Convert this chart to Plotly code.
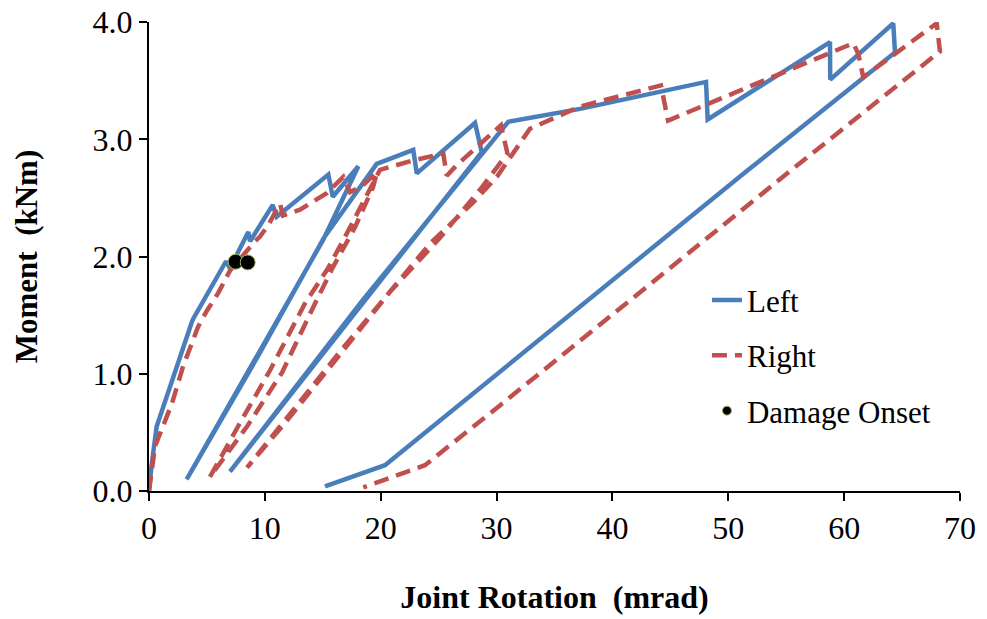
import plotly.graph_objects as go

# Left joint (blue, solid): rotation (mrad) and moment (kNm)
left_rot = [0, 0.2, 0.66, 2.24, 3.69, 3.82, 6.65, 6.99, 8.57, 8.72, 10.68, 11.02,
            15.48, 15.86, 18.07, 15.02, 9.06, 3.25, 9.41, 15.1, 19.65, 22.81, 23.11,
            28.14, 28.72, 6.99, 18.38, 31.01, 37.2, 48.08, 48.22, 58.78, 58.8, 64.24,
            64.39, 51.73, 20.37, 15.19]
left_mom = [0, 0.2, 0.55, 1.03, 1.44, 1.47, 1.96, 1.90, 2.21, 2.13, 2.44, 2.34,
            2.70, 2.51, 2.77, 2.14, 1.10, 0.10, 1.15, 2.16, 2.79, 2.91, 2.71,
            3.14, 2.89, 0.165, 1.62, 3.15, 3.26, 3.49, 3.17, 3.83, 3.51, 3.99,
            3.74, 2.74, 0.22, 0.04]

# Right joint (red, dashed)
right_rot = [0, 0.52, 1.99, 2.93, 4.23, 5.01, 5.98, 6.99, 9.06, 9.58, 10.3, 11.31, 11.57,
             13.03, 15.34, 16.77, 17.35, 18.36, 19.68,
             19.33, 17.78, 15.88, 14.33, 11.48, 8.46, 5.26,
             7.68, 10.45, 13.46, 15.45, 17.09, 18.47, 19.94,
             22.81, 25.4, 25.7, 26.56, 30.38, 30.94,
             28.57, 25.12, 20.81, 16.5, 11.91, 8.46,
             16.5, 24.25, 27.96, 30.03, 31.75, 32.88,
             37.2, 44.19, 44.8, 60.79, 61.22, 61.65, 67.99, 68.27,
             55.47, 33.17, 30.29, 23.82, 18.5]
right_mom = [0, 0.38, 0.75, 1.06, 1.40, 1.54, 1.69, 1.88, 2.12, 2.17, 2.27, 2.45, 2.35,
             2.40, 2.54, 2.68, 2.55, 2.60, 2.72,
             2.59, 2.25, 1.91, 1.60, 1.01, 0.55, 0.12,
             0.55, 1.03, 1.60, 1.90, 2.20, 2.46, 2.74,
             2.82, 2.88, 2.69, 2.78, 3.12, 2.88,
             2.57, 2.16, 1.70, 1.16, 0.60, 0.20,
             1.19, 2.11, 2.46, 2.68, 2.93, 3.09,
             3.28, 3.46, 3.16, 3.82, 3.73, 3.53, 3.99, 3.75,
             2.74, 0.95, 0.73, 0.22, 0.03]

# Damage onset points
onset_rot = [7.48, 8.52]
onset_mom = [1.956, 1.95]

x_ticks = [0, 10, 20, 30, 40, 50, 60, 70]
y_ticks = [0.0, 1.0, 2.0, 3.0, 4.0]

BLUE = "#4a7ebb"
RED = "#c0504d"
FONT = "Liberation Serif, Times New Roman, serif"

fig = go.Figure()
fig.add_trace(go.Scatter(x=left_rot, y=left_mom, mode="lines", name="Left",
                         legendgroup="a",
                         line=dict(color=BLUE, width=4.5)))
fig.add_trace(go.Scatter(x=right_rot, y=right_mom, mode="lines", name="Right",
                         legendgroup="b",
                         line=dict(color=RED, width=4.5, dash="15px,8px")))
fig.add_trace(go.Scatter(x=onset_rot, y=onset_mom, mode="markers", name="Damage Onset",
                         showlegend=False,
                         marker=dict(color="black", size=15,
                                     line=dict(color="#9bbb59", width=1))))
fig.add_trace(go.Scatter(x=[None], y=[None], mode="markers", name="Damage Onset",
                         legendgroup="c",
                         marker=dict(color="black", size=9,
                                     line=dict(color="#9bbb59", width=1))))

axis_common = dict(showline=True, linecolor="black", linewidth=2, showgrid=False,
                   zeroline=False, ticks="outside", ticklen=8, tickwidth=2,
                   automargin=False, ticklabeloverflow="allow",
                   tickcolor="black", tickfont=dict(family=FONT, size=32, color="black"))

fig.update_xaxes(range=[0, 70.001], tickvals=x_ticks, ticktext=[str(v) for v in x_ticks],
                 title=dict(text="<b>Joint Rotation  (mrad)</b>", standoff=40,
                            font=dict(family=FONT, size=32, color="black")),
                 **axis_common)
fig.update_yaxes(range=[0, 4.001], tickvals=y_ticks, ticktext=[f"{v:.1f}" for v in y_ticks],
                 title=dict(text="<b>Moment  (kNm)</b>", standoff=46,
                            font=dict(family=FONT, size=31, color="black")),
                 **axis_common)

fig.update_layout(
    width=987, height=619,
    margin=dict(l=149, r=27, t=22, b=128),
    paper_bgcolor="white", plot_bgcolor="white",
    font=dict(family=FONT, color="black"),
    legend=dict(x=0.688, y=0.464, xanchor="left", yanchor="top",
                font=dict(family=FONT, size=31, color="black"),
                bgcolor="rgba(0,0,0,0)", tracegroupgap=12),
)

# remove the default page margin so the figure sits at the window's corner
fig.write_html("out.html", config={"displayModeBar": False},
               post_script="document.body.style.margin='0';")
